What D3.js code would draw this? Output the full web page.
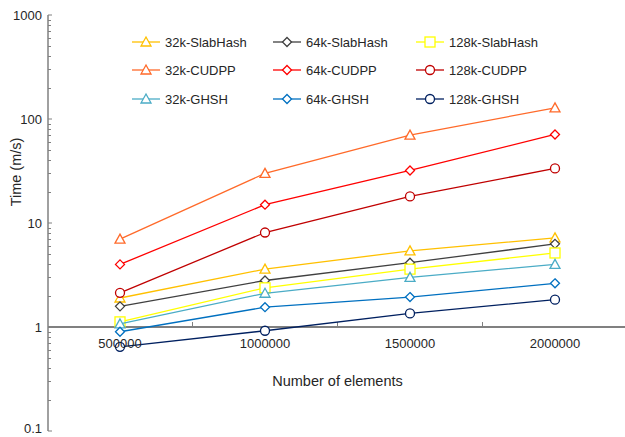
<!DOCTYPE html>
<html><head><meta charset="utf-8">
<script src="https://cdn.jsdelivr.net/npm/d3@7"></script>
<style>body{margin:0;background:#fff}svg{display:block;font-family:"Liberation Sans",Arial,sans-serif}</style>
</head><body><svg id="c" width="625" height="437"></svg>
<script>
const categories = ["500000","1000000","1500000","2000000"];
const seriesNames = ["32k-SlabHash","64k-SlabHash","128k-SlabHash","32k-CUDPP","64k-CUDPP","128k-CUDPP","32k-GHSH","64k-GHSH","128k-GHSH"];
const slab32 = [1.9, 3.6, 5.4, 7.2];
const slab64 = [1.58, 2.8, 4.15, 6.3];
const slab128 = [1.12, 2.38, 3.6, 5.15];
const cudpp32 = [7.0, 30, 70, 128];
const cudpp64 = [4.0, 15, 32, 71];
const cudpp128 = [2.13, 8.1, 18, 33.5];
const ghsh32 = [1.07, 2.11, 3.0, 4.0];
const ghsh64 = [0.9, 1.55, 1.94, 2.63];
const ghsh128 = [0.645, 0.92, 1.35, 1.83];
const colors = ["#FFC000","#404040","#FFFF00","#FF6A2A","#FF0000","#C00000","#4BACC6","#0070C0","#002060"];
const markers = ["triangle","diamond","square","triangle","diamond","circle","triangle","diamond","circle"];
const yTicks = [0.1, 1, 10, 100, 1000];
const xTitle = "Number of elements";
const yTitle = "Time (m/s)";
const values = [slab32, slab64, slab128, cudpp32, cudpp64, cudpp128, ghsh32, ghsh64, ghsh128];

const svg = d3.select("#c");
const x = d3.scaleBand().domain(categories).range([47.5, 627.5]);
const y = d3.scaleLog().domain([0.1, 1000]).range([431, 15]);
const axisX = 48;
const grey = "#808080";
const textCol = "#262626";

svg.append("line").attr("x1", axisX).attr("x2", axisX).attr("y1", y(1000)).attr("y2", y(0.1))
  .attr("stroke", grey).attr("stroke-width", 1.5);
const minor = [];
for (let d = 0.1; d < 1000; d *= 10) for (let k = 2; k <= 9; k++) minor.push(d * k);
svg.selectAll(".minor").data(minor).join("line")
  .attr("x1", axisX).attr("x2", axisX + 3)
  .attr("y1", d => Math.round(y(d)) + 0.5).attr("y2", d => Math.round(y(d)) + 0.5)
  .attr("stroke", grey).attr("stroke-width", 1);
svg.selectAll(".major").data(yTicks).join("line")
  .attr("x1", axisX).attr("x2", axisX + 4)
  .attr("y1", d => y(d)).attr("y2", d => y(d))
  .attr("stroke", grey).attr("stroke-width", 1);
svg.selectAll(".ylab").data(yTicks).join("text")
  .attr("x", axisX - 6).attr("y", d => y(d)).attr("dy", d => d === 0.1 ? "0.15em" : "0.35em")
  .attr("text-anchor", "end").attr("font-size", 13).attr("fill", textCol)
  .text(d => d3.format("~g")(d));

const bounds = [x(categories[1]), x(categories[2]), x(categories[3])];
svg.append("line").attr("x1", axisX).attr("x2", 627).attr("y1", y(1)).attr("y2", y(1))
  .attr("stroke", grey).attr("stroke-width", 2);
svg.selectAll(".xt").data(bounds).join("line")
  .attr("x1", d => d).attr("x2", d => d).attr("y1", y(1)).attr("y2", y(1) - 5)
  .attr("stroke", grey).attr("stroke-width", 1);

const cx = c => x(c) + x.bandwidth() / 2;
const line = d3.line().x((d, i) => cx(categories[i])).y(d => y(d));
function drawMarker(g, type, color, px, py) {
  if (type === "circle") {
    g.append("circle").attr("cx", px).attr("cy", py).attr("r", 4.5)
      .attr("fill", "#fff").attr("stroke", color).attr("stroke-width", 1.3);
  } else if (type === "square") {
    g.append("rect").attr("x", px - 5).attr("y", py - 5).attr("width", 10).attr("height", 10)
      .attr("fill", "#fff").attr("stroke", color).attr("stroke-width", 1.3);
  } else if (type === "diamond") {
    g.append("path").attr("d", `M${px},${py-4.5}L${px+4.5},${py}L${px},${py+4.5}L${px-4.5},${py}Z`)
      .attr("fill", "#fff").attr("stroke", color).attr("stroke-width", 1.3);
  } else {
    g.append("path").attr("d", `M${px},${py-5}L${px+5},${py+4}L${px-5},${py+4}Z`)
      .attr("fill", "#fff").attr("stroke", color).attr("stroke-width", 1.3);
  }
}
values.forEach((vals, si) => {
  const g = svg.append("g");
  g.append("path").attr("d", line(vals)).attr("fill", "none")
    .attr("stroke", colors[si]).attr("stroke-width", 1.3);
  vals.forEach((v, i) => drawMarker(g, markers[si], colors[si], cx(categories[i]), y(v)));
});

svg.selectAll(".xlab").data(categories).join("text")
  .attr("x", d => cx(d)).attr("y", y(1) + 16)
  .attr("dy", "0.35em").attr("text-anchor", "middle").attr("font-size", 13).attr("fill", textCol)
  .text(d => d);

svg.append("text").attr("x", 337.5).attr("y", 381).attr("dy", "0.35em")
  .attr("text-anchor", "middle").attr("font-size", 14.5).attr("fill", textCol).text(xTitle);
svg.append("text").attr("transform", "translate(16,172) rotate(-90)").attr("dy", "0.35em")
  .attr("text-anchor", "middle").attr("font-size", 14.5).attr("fill", textCol).text(yTitle);

const colX = [132, 273, 416];
const rowY = [42, 70, 99];
seriesNames.forEach((name, i) => {
  const lx = colX[i % 3], ly = rowY[Math.floor(i / 3)];
  const g = svg.append("g");
  g.append("line").attr("x1", lx).attr("x2", lx + 28).attr("y1", ly).attr("y2", ly)
    .attr("stroke", colors[i]).attr("stroke-width", 1.3);
  drawMarker(g, markers[i], colors[i], lx + 14, ly);
  g.append("text").attr("x", lx + 33).attr("y", ly).attr("dy", "0.35em")
    .attr("font-size", 13).attr("fill", textCol).text(name);
});
</script></body></html>
